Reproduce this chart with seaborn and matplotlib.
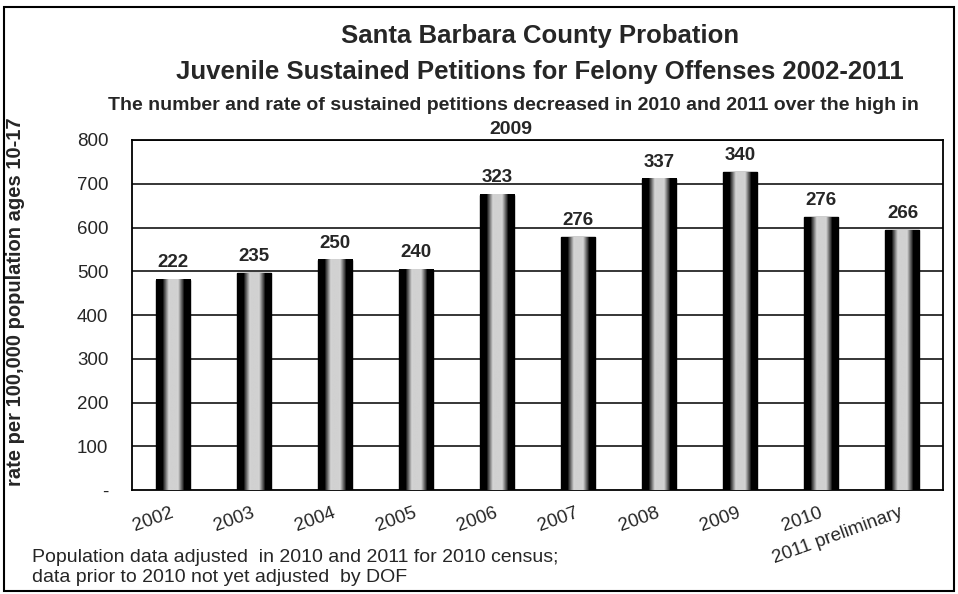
import numpy as np
import pandas as pd
import matplotlib
matplotlib.use("Agg")
import matplotlib.pyplot as plt
from matplotlib.patches import Rectangle
import seaborn as sns

# ---- data ----
years = ["2002", "2003", "2004", "2005", "2006", "2007", "2008", "2009", "2010", "2011 preliminary"]
rate = [481, 496, 526, 504, 675, 578, 711, 726, 623, 594]
petitions = [222, 235, 250, 240, 323, 276, 337, 340, 276, 266]
yticks = [0, 100, 200, 300, 400, 500, 600, 700, 800]
ytick_labels = ["-", "100", "200", "300", "400", "500", "600", "700", "800"]

sns.set_theme(style="white")
plt.rcParams['font.family'] = ['Liberation Sans', 'DejaVu Sans']

df = pd.DataFrame({"year": years, "rate": rate})

W, H = 958, 594
fig = plt.figure(figsize=(W / 100, H / 100), dpi=100)
fig.patch.set_facecolor("white")
L, R, T, B = 132, 943, 140, 490
ax = fig.add_axes([L / W, 1 - B / H, (R - L) / W, (B - T) / H])

sns.barplot(data=df, x="year", y="rate", ax=ax, width=0.42, color="#cccccc",
            edgecolor="black", linewidth=1.0, zorder=3)

# cylinder-like shading for each bar
prof = np.concatenate([np.zeros(12), np.linspace(0.15, 0.85, 10), np.full(14, 0.82),
                       np.linspace(0.85, 0.15, 10), np.zeros(12)])
grad = prof[np.newaxis, :]
for p in ax.patches:
    x0, w, h = p.get_x(), p.get_width(), p.get_height()
    ax.imshow(grad, extent=[x0, x0 + w, 0, h], aspect="auto", cmap="gray",
              vmin=0, vmax=1, zorder=3.5, interpolation="bilinear")

ax.bar_label(ax.containers[0], labels=[str(v) for v in petitions], padding=6,
             fontsize=13.5, fontweight="bold", zorder=5)

ax.set_xlim(-0.5, len(years) - 0.5)
ax.set_ylim(0, 800)
ax.set_yticks(yticks)
ax.set_yticklabels(ytick_labels, fontsize=13.5)
for yv in yticks[1:]:
    ax.axhline(yv, color="black", lw=1.1, zorder=1)

ax.set_xticks(range(len(years)))
ax.set_xticklabels(years, rotation=20, ha="right", va="center", rotation_mode="anchor", fontsize=13.5)
ax.set_xticks(np.arange(-0.5, len(years), 1.0), minor=True)
ax.tick_params(axis="x", which="major", length=0, pad=16)
ax.tick_params(axis="x", which="minor", length=6, width=1.1, color="black", direction="out")
ax.tick_params(axis="y", which="major", length=6, width=1.1, color="black", direction="out", pad=11)
ax.set_xlabel("")
ax.set_ylabel("rate per 100,000 population ages 10-17", fontsize=14.5, fontweight="bold")
ax.yaxis.set_label_coords((25 - L) / (R - L), (B - 302) / (B - T))
for s in ax.spines.values():
    s.set_visible(True)
    s.set_color("black")
    s.set_linewidth(1.3)

# titles
def fy(y):
    return 1 - y / H

fig.text(540 / W, fy(36), "Santa Barbara County Probation", ha="center", va="center",
         fontsize=18.5, fontweight="bold")
fig.text(540 / W, fy(72), "Juvenile Sustained Petitions for Felony Offenses 2002-2011", ha="center",
         va="center", fontsize=18.5, fontweight="bold")
fig.text(513 / W, fy(105), "The number and rate of sustained petitions decreased in 2010 and 2011 over the high in",
         ha="center", va="center", fontsize=14, fontweight="bold")
fig.text(511 / W, fy(130), "2009", ha="center", va="center", fontsize=14, fontweight="bold")

fig.text(32 / W, fy(557), "Population data adjusted  in 2010 and 2011 for 2010 census;",
         ha="left", va="center", fontsize=14)
fig.text(32 / W, fy(577), "data prior to 2010 not yet adjusted  by DOF",
         ha="left", va="center", fontsize=14)

fig.add_artist(Rectangle((4 / W, 3 / H), 950 / W, 584 / H, transform=fig.transFigure,
                         fill=False, edgecolor="black", lw=1.5))

fig.savefig("out.png", dpi=100, facecolor="white")
